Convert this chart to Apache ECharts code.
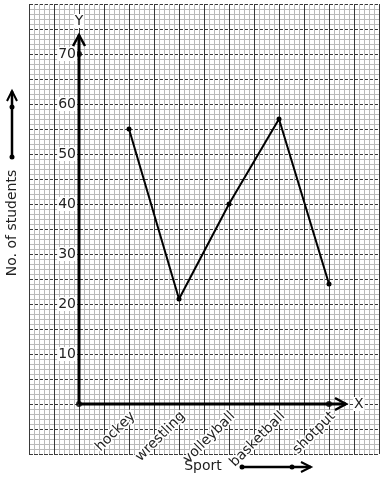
<!DOCTYPE html>
<html>
<head>
<meta charset="utf-8">
<script src="https://cdn.jsdelivr.net/npm/echarts@6/dist/echarts.min.js"></script>
<style>html,body{margin:0;padding:0;background:#fff}#c{width:384px;height:480px}</style>
</head>
<body>
<div id="c"></div>
<script>
var categories = ['hockey', 'wrestling', 'volleyball', 'basketball', 'shotput'];
var students = [55, 21, 40, 57, 24];
var yTickLabels = [10, 20, 30, 40, 50, 60, 70];
var markerPoints = [[0, 0], [0, 70], [5, 0]];
var axisArrows = [[0, 0, 0, 73.8], [0, 0, 5.34, 0]];

var FONT = 'DejaVu Sans';
var lineData = categories.map(function (c, i) { return [i + 1, students[i]]; });
var catLabelData = categories.map(function (c, i) { return [i + 1, 0]; });
var yLabelData = yTickLabels.map(function (v) { return [0, v]; });

var chart = echarts.init(document.getElementById('c'), null, {renderer: 'canvas'});
chart.setOption({
  animation: false,
  backgroundColor: '#fff',
  grid: {left: 29, right: 5, top: 4, bottom: 26, containLabel: false, outerBoundsMode: 'none'},
  xAxis: {
    type: 'value', min: -1, max: 6, interval: 0.5,
    name: 'X', nameLocation: 'end', nameGap: -26,
    nameTextStyle: {fontFamily: FONT, fontSize: 14, color: '#222', backgroundColor: '#fff', padding: [0, 1]},
    axisLine: {show: true, onZero: true, lineStyle: {color: 'rgba(0,0,0,0)'}},
    axisTick: {show: false},
    minorTick: {show: false, splitNumber: 5},
    axisLabel: {show: false},
    splitLine: {show: true, lineStyle: {color: '#3a3a3a', width: 1}},
    minorSplitLine: {show: true, lineStyle: {color: '#bababa', width: 1}}
  },
  yAxis: {
    type: 'value', min: -10, max: 80, interval: 5,
    name: 'Y', nameLocation: 'end', nameGap: -24,
    nameTextStyle: {fontFamily: FONT, fontSize: 14, color: '#222', backgroundColor: '#fff', padding: [0, 1], align: 'center'},
    axisLine: {show: true, onZero: true, lineStyle: {color: 'rgba(0,0,0,0)'}},
    axisTick: {show: false},
    minorTick: {show: false, splitNumber: 5},
    axisLabel: {show: false},
    splitLine: {show: true, lineStyle: {color: '#3a3a3a', width: 1, type: [4, 1]}},
    minorSplitLine: {show: true, lineStyle: {color: '#bababa', width: 1}}
  },
  graphic: [
    {type: 'text', x: 12, y: 223, rotation: Math.PI / 2, z: 100,
      style: {text: 'No. of students', fontFamily: FONT, fontSize: 14, fill: '#222', align: 'center', verticalAlign: 'middle'}},
    {type: 'line', z: 100, shape: {x1: 12, y1: 157, x2: 12, y2: 91}, style: {stroke: '#000', lineWidth: 2.5}},
    {type: 'polyline', z: 100, shape: {points: [[7, 101], [12, 91], [17, 101]]}, style: {stroke: '#000', lineWidth: 2, fill: null}},
    {type: 'circle', z: 100, shape: {cx: 12, cy: 157, r: 2.5}, style: {fill: '#000'}},
    {type: 'circle', z: 100, shape: {cx: 12, cy: 107, r: 2.5}, style: {fill: '#000'}},
    {type: 'text', x: 203, y: 466, z: 100,
      style: {text: 'Sport', fontFamily: FONT, fontSize: 14, fill: '#222', align: 'center', verticalAlign: 'middle'}},
    {type: 'line', z: 100, shape: {x1: 242, y1: 467, x2: 311, y2: 467}, style: {stroke: '#000', lineWidth: 2.5}},
    {type: 'polyline', z: 100, shape: {points: [[301, 462], [311, 467], [301, 472]]}, style: {stroke: '#000', lineWidth: 2, fill: null}},
    {type: 'circle', z: 100, shape: {cx: 242, cy: 467, r: 2.5}, style: {fill: '#000'}},
    {type: 'circle', z: 100, shape: {cx: 292, cy: 467, r: 2.5}, style: {fill: '#000'}}
  ],
  series: [
    {
      type: 'custom', z: 5, silent: true,
      encode: {x: [0, 2], y: [1, 3]},
      data: axisArrows,
      renderItem: function (params, api) {
        var p0 = api.coord([api.value(0), api.value(1)]);
        var p1 = api.coord([api.value(2), api.value(3)]);
        var dx = p1[0] - p0[0], dy = p1[1] - p0[1];
        var len = Math.sqrt(dx * dx + dy * dy);
        var ux = dx / len, uy = dy / len, h = 11, w = 6;
        var a = [p1[0] - ux * h - uy * w, p1[1] - uy * h + ux * w];
        var b = [p1[0] - ux * h + uy * w, p1[1] - uy * h - ux * w];
        return {type: 'group', children: [
          {type: 'line', shape: {x1: p0[0], y1: p0[1], x2: p1[0], y2: p1[1]}, style: {stroke: '#000', lineWidth: 3}},
          {type: 'polyline', shape: {points: [a, p1, b]}, style: {stroke: '#000', lineWidth: 2.5, fill: null}}
        ]};
      }
    },
    {
      type: 'custom', z: 8, silent: true,
      encode: {x: 0, y: 1},
      data: yLabelData,
      renderItem: function (params, api) {
        var p = api.coord([api.value(0), api.value(1)]);
        return {type: 'text', x: p[0] - 2, y: p[1],
          style: {text: String(api.value(1)), fontFamily: FONT, fontSize: 14, fill: '#222',
            align: 'right', verticalAlign: 'middle', backgroundColor: '#fff', padding: [0, 1]}};
      }
    },
    {
      type: 'custom', z: 8, silent: true,
      encode: {x: 0, y: 1},
      data: catLabelData,
      renderItem: function (params, api) {
        var p = api.coord([api.value(0), api.value(1)]);
        var name = categories[params.dataIndex];
        return {type: 'text', x: p[0] + 4, y: p[1] + 10, rotation: Math.PI / 4,
          style: {text: name, fontFamily: FONT, fontSize: 14, fill: '#222',
            align: 'right', verticalAlign: 'middle', stroke: '#fff', lineWidth: 3}};
      }
    },
    {
      type: 'scatter', z: 6, silent: true, data: markerPoints,
      symbol: 'circle', symbolSize: 6, itemStyle: {color: '#000'}
    },
    {
      type: 'line', z: 7, data: lineData,
      symbol: 'circle', symbolSize: 5, showSymbol: true,
      lineStyle: {color: '#000', width: 2},
      itemStyle: {color: '#000', borderWidth: 0}
    }
  ]
});
</script>
</body>
</html>
